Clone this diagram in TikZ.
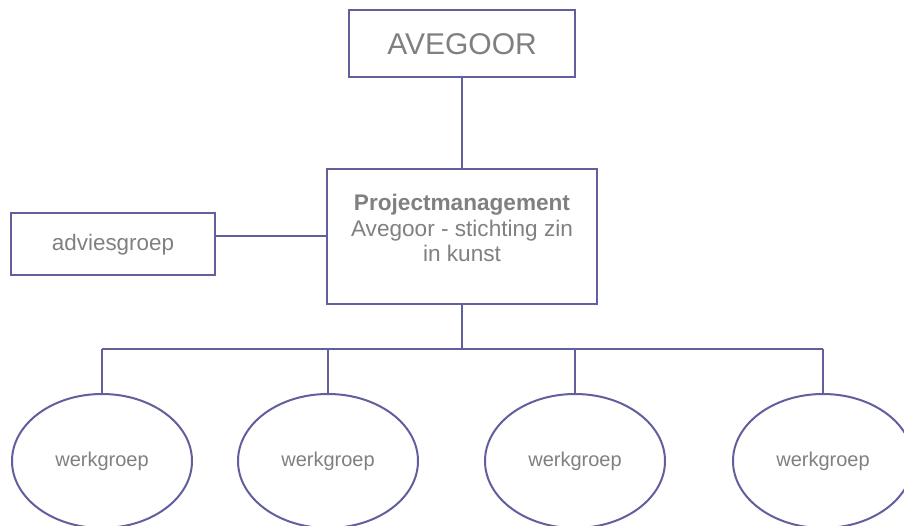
\documentclass[tikz,border=0pt]{standalone}
\usepackage{fontspec}
\setmainfont{Liberation Sans}
\usetikzlibrary{shapes.geometric}
\definecolor{linec}{HTML}{625F9E}
\definecolor{textc}{HTML}{808080}
\tikzset{
  conn/.style={draw=linec, line width=2pt},
  boxn/.style={draw=linec, line width=2pt, rectangle, inner sep=0pt, text=textc, fill=white},
  wg/.style={draw=linec, line width=2pt, ellipse, inner sep=0pt, minimum width=180pt, minimum height=134pt, text=textc, font=\fontsize{20}{24}\selectfont},
}
\begin{document}
\begin{tikzpicture}[x=1pt,y=-1pt]
\useasboundingbox (0,0) rectangle (904,526);
\clip (0,0) rectangle (904,526);
\fill[white] (0,0) rectangle (904,526);
% nodes
\node[boxn, minimum width=226pt, minimum height=67pt, font=\fontsize{30}{36}\selectfont] (top) at (462,44) {AVEGOOR};
\node[boxn, minimum width=270pt, minimum height=135pt] (pm) at (462,236.5) {};
\node[anchor=north, align=center, inner sep=0pt, text=textc, font=\fontsize{22.6}{25.5}\selectfont] (pmtext) at (462,194) {\textbf{Projectmanagement}\\Avegoor - stichting zin\\in kunst};
\node[boxn, minimum width=204pt, minimum height=62pt, font=\fontsize{22.4}{26}\selectfont] (ad) at (113,244.5) {adviesgroep};
\node[wg] (w1) at (102,461) {werkgroep};
\node[wg] (w2) at (328,461) {werkgroep};
\node[wg] (w3) at (575,461) {werkgroep};
\node[wg] (w4) at (823,461) {werkgroep};
\coordinate (bar) at (462,349);
% connectors
\draw[conn] (top.south) -- (pm.north);
\draw[conn] (ad.east |- 0,236) -- (pm.west |- 0,236);
\draw[conn] (pm.south) -- (bar);
\draw[conn] (w1.north |- bar) -- (w4.north |- bar);
\draw[conn] (w1.north |- bar) -- (w1.north);
\draw[conn] (w2.north |- bar) -- (w2.north);
\draw[conn] (w3.north |- bar) -- (w3.north);
\draw[conn] (w4.north |- bar) -- (w4.north);
\end{tikzpicture}
\end{document}
